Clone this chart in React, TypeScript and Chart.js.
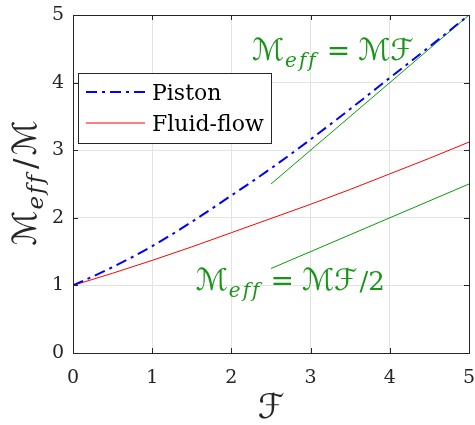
import React, { useEffect, useRef } from 'react';
import { Chart, registerables } from 'chart.js';

Chart.register(...registerables);

// ---- data ----
const xValues = [0, 0.5, 1, 1.5, 2, 2.5, 3, 3.5, 4, 4.5, 5];
const pistonValues = [1, 1.27, 1.58, 1.94, 2.33, 2.73, 3.16, 3.61, 4.07, 4.53, 5];
const fluidValues = [1, 1.18, 1.37, 1.57, 1.78, 1.99, 2.2, 2.42, 2.65, 2.88, 3.12];
const refX = [2.5, 5];
const refFull = [2.5, 5];
const refHalf = [1.25, 2.5];
const seriesLabels = ['Piston', 'Fluid-flow'];
const xTicks = [0, 1, 2, 3, 4, 5];
const yTicks = [0, 1, 2, 3, 4, 5];

const SERIF = '"DejaVu Serif", serif';
const SCRIPT = '"DejaVu Serif", "DejaVu Sans", serif';
const AXIS_COLOR = '#262626';
const GREEN_TEXT = 'rgb(25,150,25)';

type Part = { t: string; f: string; dy?: number; ls?: number; gap?: number };

function drawParts(ctx: any, parts: Part[], x: number, y: number, align: 'left' | 'center') {
  ctx.textAlign = 'left';
  ctx.textBaseline = 'alphabetic';
  const widths: number[] = [];
  let total = 0;
  for (const p of parts) {
    ctx.font = p.f;
    ctx.letterSpacing = `${p.ls || 0}px`;
    const w = ctx.measureText(p.t).width + (p.gap || 0);
    widths.push(w);
    total += w;
  }
  let cx = align === 'center' ? x - total / 2 : x;
  parts.forEach((p, i) => {
    ctx.font = p.f;
    ctx.letterSpacing = `${p.ls || 0}px`;
    ctx.fillText(p.t, cx + (p.gap || 0) / 2, y + (p.dy || 0));
    cx += widths[i];
  });
  ctx.letterSpacing = '0px';
}

const M = (s: number): Part => ({ t: '\u2133', f: `${s}px ${SCRIPT}` });
const F = (s: number): Part => ({ t: '\u2131', f: `${s}px ${SCRIPT}` });
const EFF = (s: number, dy: number): Part => ({ t: 'eff', f: `italic ${s}px ${SERIF}`, dy, ls: 2, gap: 2 });
const TXT = (t: string, s: number, gap = 0): Part => ({ t, f: `${s}px ${SERIF}`, gap });

const overlayPlugin = {
  id: 'overlay',
  afterDatasetsDraw(chart: any) {
    const { ctx, chartArea, scales } = chart;
    const { left, right, top, bottom } = chartArea;
    const xs = scales.x;
    const ys = scales.y;
    ctx.save();

    // box
    ctx.strokeStyle = AXIS_COLOR;
    ctx.lineWidth = 1;
    ctx.strokeRect(Math.round(left) + 0.5, Math.round(top) + 0.5, Math.round(right - left), Math.round(bottom - top));
    // inward ticks
    ctx.beginPath();
    for (const v of xTicks) {
      const px = Math.round(xs.getPixelForValue(v)) + 0.5;
      ctx.moveTo(px, bottom); ctx.lineTo(px, bottom - 5);
      ctx.moveTo(px, top); ctx.lineTo(px, top + 5);
    }
    for (const v of yTicks) {
      const py = Math.round(ys.getPixelForValue(v)) + 0.5;
      ctx.moveTo(left, py); ctx.lineTo(left + 5, py);
      ctx.moveTo(right, py); ctx.lineTo(right - 5, py);
    }
    ctx.stroke();

    // annotations
    ctx.fillStyle = GREEN_TEXT;
    drawParts(ctx, [M(30), EFF(20, 7), TXT('=', 28, 16), M(30), F(30)], xs.getPixelForValue(2.26), ys.getPixelForValue(4.33), 'left');
    drawParts(ctx, [M(30), EFF(20, 7), TXT('=', 28, 16), M(30), F(30), TXT('/2', 26, 4)], xs.getPixelForValue(1.55), ys.getPixelForValue(0.93), 'left');

    // legend
    const lx = 78, ly = 73, lw = 193, lh = 70;
    ctx.fillStyle = '#ffffff';
    ctx.fillRect(lx, ly, lw, lh);
    ctx.strokeStyle = AXIS_COLOR;
    ctx.lineWidth = 1;
    ctx.strokeRect(lx + 0.5, ly + 0.5, lw, lh);
    const rows = [92, 123];
    chart.data.datasets.slice(0, 2).forEach((ds: any, i: number) => {
      ctx.save();
      ctx.strokeStyle = ds.borderColor;
      ctx.lineWidth = ds.borderWidth;
      ctx.setLineDash(ds.borderDash || []);
      ctx.beginPath();
      ctx.moveTo(86, rows[i]);
      ctx.lineTo(145, rows[i]);
      ctx.stroke();
      ctx.restore();
      ctx.fillStyle = '#000000';
      ctx.font = `22px ${SERIF}`;
      ctx.textAlign = 'left';
      ctx.textBaseline = 'alphabetic';
      ctx.fillText(ds.label, 152, rows[i] + 8);
    });

    // axis titles
    ctx.fillStyle = AXIS_COLOR;
    drawParts(ctx, [F(34)], (left + right) / 2, 418, 'center');
    ctx.save();
    ctx.translate(36, (top + bottom) / 2 - 1);
    ctx.rotate(-Math.PI / 2);
    drawParts(ctx, [M(33), EFF(23, 7), TXT('/', 31, 6), M(33)], 0, 0, 'center');
    ctx.restore();

    ctx.restore();
  },
};

export default function App() {
  const ref = useRef<HTMLCanvasElement | null>(null);
  useEffect(() => {
    if (!ref.current) return;
    const pts = (ys: number[], xs: number[]) => xs.map((x, i) => ({ x, y: ys[i] }));
    const chart = new Chart(ref.current, {
      type: 'line',
      data: {
        datasets: [
          { label: seriesLabels[0], data: pts(pistonValues, xValues), borderColor: '#0000ff', borderWidth: 2, borderDash: [11, 5, 3, 5], pointRadius: 0, cubicInterpolationMode: 'monotone', fill: false },
          { label: seriesLabels[1], data: pts(fluidValues, xValues), borderColor: '#ff0000', borderWidth: 1, pointRadius: 0, cubicInterpolationMode: 'monotone', fill: false },
          { label: 'MF', data: pts(refFull, refX), borderColor: 'rgb(0,160,0)', borderWidth: 1, pointRadius: 0, fill: false },
          { label: 'MF/2', data: pts(refHalf, refX), borderColor: 'rgb(0,160,0)', borderWidth: 1, pointRadius: 0, fill: false },
        ],
      },
      options: {
        animation: false,
        responsive: false,
        layout: { padding: { top: 15, right: 6, bottom: 0, left: 0 } },
        plugins: { legend: { display: false }, tooltip: { enabled: false } },
        scales: {
          x: {
            type: 'linear', min: 0, max: 5,
            afterFit: (s: any) => { s.height = 72; s.paddingLeft = 0; s.paddingRight = 0; },
            afterBuildTicks: (s: any) => { s.ticks = xTicks.map((v) => ({ value: v })); },
            ticks: { font: { family: SERIF, size: 19 }, color: AXIS_COLOR, padding: 14, maxRotation: 0 },
            grid: { color: '#e3e3e3', drawTicks: false },
            border: { display: false },
          },
          y: {
            type: 'linear', min: 0, max: 5,
            afterFit: (s: any) => { s.width = 73; s.paddingTop = 0; s.paddingBottom = 0; },
            afterBuildTicks: (s: any) => { s.ticks = yTicks.map((v) => ({ value: v })); },
            ticks: { font: { family: SERIF, size: 19 }, color: AXIS_COLOR, padding: 9 },
            grid: { color: '#e3e3e3', drawTicks: false },
            border: { display: false },
          },
        },
      },
      plugins: [overlayPlugin],
    } as any);
    return () => chart.destroy();
  }, []);
  return (
    <div style={{ position: 'absolute', left: 0, top: 0, width: 475, height: 425, background: '#fff' }}>
      <canvas ref={ref} width={475} height={425} />
    </div>
  );
}
